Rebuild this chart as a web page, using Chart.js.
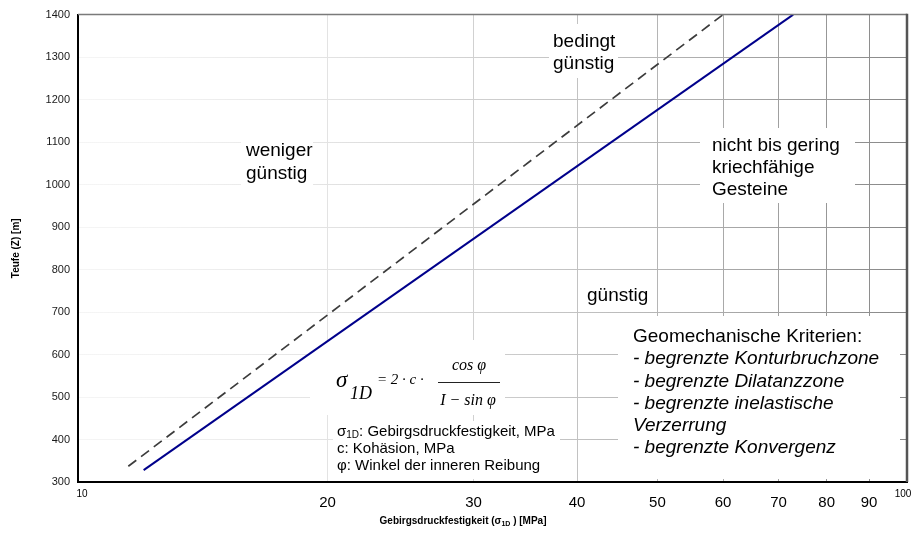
<!DOCTYPE html>
<html><head><meta charset="utf-8">
<script src="https://cdn.jsdelivr.net/npm/chart.js@4.4.1/dist/chart.umd.min.js"></script>
<style>html,body{margin:0;padding:0;background:#fff;}#wrap{width:911px;height:533px;position:relative;}</style>
</head><body><div id="wrap"><canvas id="c" width="911" height="533"></canvas></div>
<script>
// ---- data ----
const xTickValues = [10, 20, 30, 40, 50, 60, 70, 80, 90, 100];
const xTickLabels = ['10', '20', '30', '40', '50', '60', '70', '80', '90', '100'];
const yMin = 300, yMax = 1400, yStep = 100;
const dashedX = [11.5, 60.0];
const dashedY = [337, 1400];
const solidX = [12.0, 72.9];
const solidY = [328, 1400];
const labelWeniger = ['weniger', 'günstig'];
const labelBedingt = ['bedingt', 'günstig'];
const labelNicht = ['nicht bis gering', 'kriechfähige', 'Gesteine'];
const labelGuenstig = ['günstig'];
const kriterienTitle = 'Geomechanische Kriterien:';
const kriterienItems = ['- begrenzte Konturbruchzone', '- begrenzte Dilatanzzone', '- begrenzte inelastische', 'Verzerrung', '- begrenzte Konvergenz'];
const legendLines = [': Gebirgsdruckfestigkeit, MPa', 'c: Kohäsion, MPa', 'φ: Winkel der inneren Reibung'];
const yTitle = 'Teufe (Z) [m]';

const toPts = (xs, ys) => xs.map((x, i) => ({x: x, y: ys[i]}));

function grayAt(px, area) {
  const t = Math.max(0, Math.min(1, (px - area.left) / (area.right - area.left)));
  const g = Math.round(245 - 110 * Math.pow(t, 1.5));
  return 'rgb(' + g + ',' + g + ',' + g + ')';
}

const SANS = '"Liberation Sans", Arial, sans-serif';
const SERIF = '"Liberation Serif", "Times New Roman", serif';

function T(ctx, s, x, y, font, align) {
  ctx.font = font;
  ctx.textAlign = align || 'left';
  ctx.textBaseline = 'middle';
  ctx.fillText(s, x, y);
  return ctx.measureText(s).width;
}

const decor = {
  id: 'decor',
  beforeDatasetsDraw(chart) {
    const ctx = chart.ctx;
    ctx.save();
    ctx.fillStyle = '#fff';
    const boxes = [
      [241, 138, 72, 47],
      [549, 24, 69, 54],
      [700, 128, 155, 75],
      [578, 283, 77, 27],
      [618, 316, 282, 163],
      [310, 340, 195, 75],
      [333, 421, 227, 58]
    ];
    boxes.forEach(b => ctx.fillRect(b[0], b[1], b[2], b[3]));
    ctx.restore();
  },
  afterDraw(chart) {
    const ctx = chart.ctx;
    const a = chart.chartArea;
    const xs = chart.scales.x;
    ctx.save();
    // top and right frame
    ctx.strokeStyle = '#7a7a7a';
    ctx.lineWidth = 1.5;
    ctx.beginPath(); ctx.moveTo(a.left, a.top); ctx.lineTo(a.right, a.top); ctx.stroke();
    ctx.strokeStyle = '#555';
    ctx.lineWidth = 2.5;
    ctx.beginPath(); ctx.moveTo(a.right, a.top - 0.75); ctx.lineTo(a.right, a.bottom); ctx.stroke();

    ctx.fillStyle = '#000';
    // x tick labels
    xTickValues.forEach((v, i) => {
      const px = xs.getPixelForValue(v);
      if (v === 10) T(ctx, xTickLabels[i], px + 4, 494, '10px ' + SANS, 'center');
      else if (v === 100) T(ctx, xTickLabels[i], px - 4, 494, '10px ' + SANS, 'center');
      else T(ctx, xTickLabels[i], px, 503, '15px ' + SANS, 'center');
    });
    // x title with subscript
    const f1 = 'bold 10px ' + SANS, f2 = 'bold 7px ' + SANS;
    ctx.font = f1;
    const p1 = 'Gebirgsdruckfestigkeit (σ', p3 = ' ) [MPa]';
    const w1 = ctx.measureText(p1).width, w3 = ctx.measureText(p3).width;
    ctx.font = f2; const w2 = ctx.measureText('1D').width;
    let sx = 463 - (w1 + w2 + w3) / 2;
    sx += T(ctx, p1, sx, 521, f1);
    sx += T(ctx, '1D', sx, 524, f2);
    T(ctx, p3, sx, 521, f1);
    // y title
    ctx.save();
    ctx.translate(16, (a.top + a.bottom) / 2);
    ctx.rotate(-Math.PI / 2);
    T(ctx, yTitle, 0, 0, 'bold 10px ' + SANS, 'center');
    ctx.restore();

    // region labels
    const big = '19px ' + SANS;
    labelWeniger.forEach((s, i) => T(ctx, s, 246, 151 + i * 23, big));
    labelBedingt.forEach((s, i) => T(ctx, s, 553, 42 + i * 22, big));
    labelNicht.forEach((s, i) => T(ctx, s, 712, 146 + i * 22, big));
    labelGuenstig.forEach((s, i) => T(ctx, s, 587, 296, big));
    T(ctx, kriterienTitle, 633, 337, big);
    kriterienItems.forEach((s, i) => T(ctx, s, 633, 359 + i * 22.3, 'italic ' + big));

    // formula
    T(ctx, 'σ', 336, 381, 'italic 23px ' + SERIF);
    T(ctx, '1D', 350, 394, 'italic 18px ' + SERIF);
    T(ctx, '= 2 · c ·', 377, 380, 'italic 15px ' + SERIF);
    ctx.strokeStyle = '#222'; ctx.lineWidth = 1;
    ctx.beginPath(); ctx.moveTo(438, 382.5); ctx.lineTo(500, 382.5); ctx.stroke();
    T(ctx, 'cos φ', 469, 366, 'italic 16px ' + SERIF, 'center');
    T(ctx, 'I − sin φ', 468, 401, 'italic 16px ' + SERIF, 'center');

    // legend lines
    const lf = '15px ' + SANS;
    let lx = 337;
    lx += T(ctx, 'σ', lx, 432, lf);
    lx += T(ctx, '1D', lx, 435, '10px ' + SANS);
    T(ctx, legendLines[0], lx, 432, lf);
    T(ctx, legendLines[1], 337, 449, lf);
    T(ctx, legendLines[2], 337, 466, lf);
    ctx.restore();
  }
};

new Chart(document.getElementById('c'), {
  type: 'line',
  data: {
    datasets: [
      {data: toPts(dashedX, dashedY), borderColor: '#3c3c3c', borderWidth: 1.7, borderDash: [10, 6], pointRadius: 0, fill: false, tension: 0},
      {data: toPts(solidX, solidY), borderColor: '#00008b', borderWidth: 2, pointRadius: 0, fill: false, tension: 0}
    ]
  },
  options: {
    responsive: false,
    animation: false,
    events: [],
    layout: {padding: {top: 12, right: 4, left: 0, bottom: 0}},
    plugins: {legend: {display: false}, tooltip: {enabled: false}},
    scales: {
      x: {
        type: 'logarithmic', min: 10, max: 100,
        afterFit: s => { s.height = 51; },
        afterBuildTicks: s => { s.ticks = xTickValues.map(v => ({value: v})); },
        ticks: {display: false},
        grid: {
          drawTicks: false,
          lineWidth: 1,
          color: c => {
            const v = c.tick && c.tick.value;
            if (v === 10 || v === 100) return 'rgba(0,0,0,0)';
            const ch = c.chart;
            if (!ch.chartArea || !ch.scales.x) return '#ccc';
            return grayAt(ch.scales.x.getPixelForValue(v), ch.chartArea);
          }
        },
        border: {display: true, color: '#000', width: 2}
      },
      y: {
        min: yMin, max: yMax,
        afterFit: s => { s.width = 78; },
        ticks: {stepSize: yStep, padding: 8, color: '#1a1a1a', font: {family: SANS, size: 11}, callback: v => String(v)},
        grid: {
          drawTicks: false,
          lineWidth: 1,
          color: c => {
            const ch = c.chart, a = ch.chartArea;
            if (!a) return '#ddd';
            const g = ch.ctx.createLinearGradient(a.left, 0, a.right, 0);
            for (let i = 0; i <= 10; i++) {
              g.addColorStop(i / 10, grayAt(a.left + (a.right - a.left) * i / 10, a));
            }
            return g;
          }
        },
        border: {display: true, color: '#000', width: 2}
      }
    }
  },
  plugins: [decor]
});
</script>
</body></html>
